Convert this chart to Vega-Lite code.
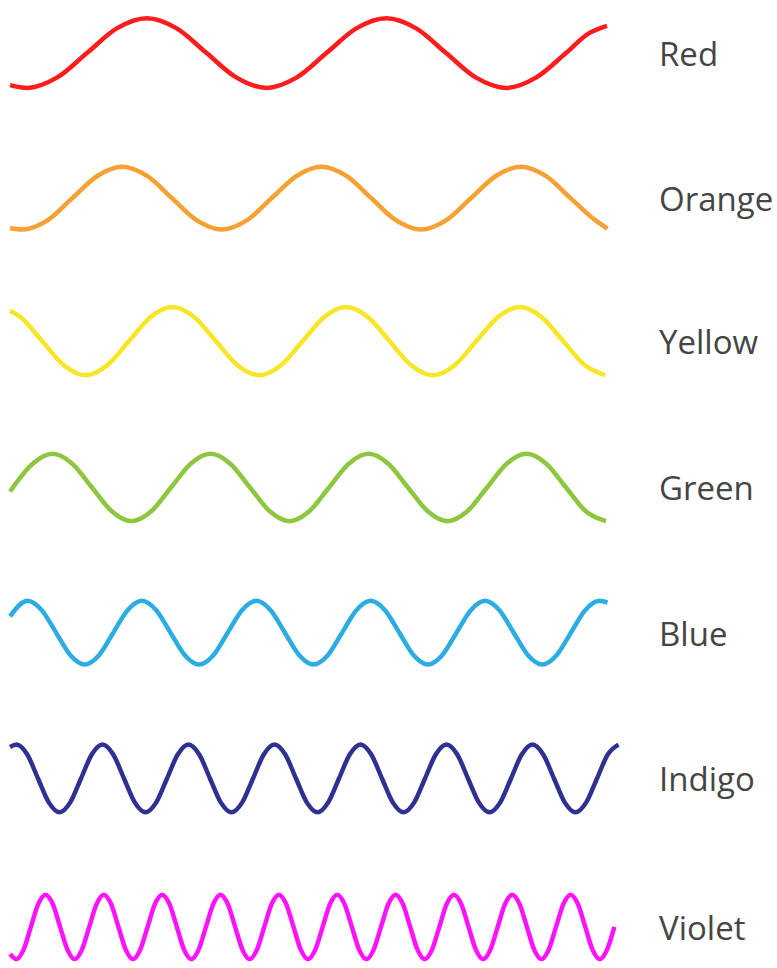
{
  "$schema": "https://vega.github.io/schema/vega-lite/v6.json",
  "width": 777,
  "height": 968,
  "autosize": {"type": "fit", "contains": "padding"},
  "padding": 0,
  "background": "white",
  "config": {"view": {"stroke": null}},
  "datasets": {
    "waves": [
      {"band": "Red", "x": 10, "y": 85.5}, {"band": "Red", "x": 27, "y": 88.3}, {"band": "Red", "x": 56.9, "y": 78}, {"band": "Red", "x": 86.9, "y": 53.3}, {"band": "Red", "x": 116.8, "y": 28.5}, {"band": "Red", "x": 146.8, "y": 18.3}, {"band": "Red", "x": 176.7, "y": 28.5}, {"band": "Red", "x": 206.6, "y": 53.3}, {"band": "Red", "x": 236.6, "y": 78}, {"band": "Red", "x": 266.5, "y": 88.3}, {"band": "Red", "x": 296.4, "y": 78}, {"band": "Red", "x": 326.4, "y": 53.3}, {"band": "Red", "x": 356.3, "y": 28.5}, {"band": "Red", "x": 386.3, "y": 18.3}, {"band": "Red", "x": 416.2, "y": 28.5}, {"band": "Red", "x": 446.1, "y": 53.3}, {"band": "Red", "x": 476.1, "y": 78}, {"band": "Red", "x": 506, "y": 88.3}, {"band": "Red", "x": 535.9, "y": 78}, {"band": "Red", "x": 565.9, "y": 53.3}, {"band": "Red", "x": 588, "y": 34}, {"band": "Red", "x": 607, "y": 26},
      {"band": "Orange", "x": 10, "y": 229}, {"band": "Orange", "x": 22.5, "y": 230.5}, {"band": "Orange", "x": 47.4, "y": 221.3}, {"band": "Orange", "x": 72.3, "y": 199}, {"band": "Orange", "x": 97.3, "y": 176.7}, {"band": "Orange", "x": 122.2, "y": 167.5}, {"band": "Orange", "x": 147.1, "y": 176.7}, {"band": "Orange", "x": 172, "y": 199}, {"band": "Orange", "x": 196.9, "y": 221.3}, {"band": "Orange", "x": 221.8, "y": 230.5}, {"band": "Orange", "x": 246.7, "y": 221.3}, {"band": "Orange", "x": 271.6, "y": 199}, {"band": "Orange", "x": 296.6, "y": 176.7}, {"band": "Orange", "x": 321.5, "y": 167.5}, {"band": "Orange", "x": 346.4, "y": 176.7}, {"band": "Orange", "x": 371.3, "y": 199}, {"band": "Orange", "x": 396.2, "y": 221.3}, {"band": "Orange", "x": 421.1, "y": 230.5}, {"band": "Orange", "x": 446, "y": 221.3}, {"band": "Orange", "x": 470.9, "y": 199}, {"band": "Orange", "x": 495.9, "y": 176.7}, {"band": "Orange", "x": 520.8, "y": 167.5}, {"band": "Orange", "x": 545.7, "y": 176.7}, {"band": "Orange", "x": 570.6, "y": 199}, {"band": "Orange", "x": 595.5, "y": 221.3}, {"band": "Orange", "x": 607.5, "y": 229.5},
      {"band": "Yellow", "x": 10, "y": 312}, {"band": "Yellow", "x": 20.4, "y": 318.3}, {"band": "Yellow", "x": 42.1, "y": 342.5}, {"band": "Yellow", "x": 63.8, "y": 366.7}, {"band": "Yellow", "x": 85.55, "y": 376.7}, {"band": "Yellow", "x": 107.3, "y": 366.7}, {"band": "Yellow", "x": 129, "y": 342.5}, {"band": "Yellow", "x": 150.7, "y": 318.3}, {"band": "Yellow", "x": 172.4, "y": 308.3}, {"band": "Yellow", "x": 194.1, "y": 318.3}, {"band": "Yellow", "x": 215.8, "y": 342.5}, {"band": "Yellow", "x": 237.5, "y": 366.7}, {"band": "Yellow", "x": 259.25, "y": 376.7}, {"band": "Yellow", "x": 281, "y": 366.7}, {"band": "Yellow", "x": 302.7, "y": 342.5}, {"band": "Yellow", "x": 324.4, "y": 318.3}, {"band": "Yellow", "x": 346.1, "y": 308.3}, {"band": "Yellow", "x": 367.8, "y": 318.3}, {"band": "Yellow", "x": 389.5, "y": 342.5}, {"band": "Yellow", "x": 411.2, "y": 366.7}, {"band": "Yellow", "x": 432.95, "y": 376.7}, {"band": "Yellow", "x": 454.7, "y": 366.7}, {"band": "Yellow", "x": 476.4, "y": 342.5}, {"band": "Yellow", "x": 498.1, "y": 318.3}, {"band": "Yellow", "x": 519.8, "y": 308.3}, {"band": "Yellow", "x": 541.5, "y": 318.3}, {"band": "Yellow", "x": 563.2, "y": 342.5}, {"band": "Yellow", "x": 584.9, "y": 366.7}, {"band": "Yellow", "x": 605, "y": 376.7},
      {"band": "Green", "x": 10, "y": 493.5}, {"band": "Green", "x": 32.75, "y": 465.6}, {"band": "Green", "x": 52.5, "y": 455.7}, {"band": "Green", "x": 72.25, "y": 465.6}, {"band": "Green", "x": 92, "y": 489.5}, {"band": "Green", "x": 111.75, "y": 513.4}, {"band": "Green", "x": 131.5, "y": 523.3}, {"band": "Green", "x": 151.25, "y": 513.4}, {"band": "Green", "x": 171, "y": 489.5}, {"band": "Green", "x": 190.75, "y": 465.6}, {"band": "Green", "x": 210.5, "y": 455.7}, {"band": "Green", "x": 230.25, "y": 465.6}, {"band": "Green", "x": 250, "y": 489.5}, {"band": "Green", "x": 269.75, "y": 513.4}, {"band": "Green", "x": 289.5, "y": 523.3}, {"band": "Green", "x": 309.25, "y": 513.4}, {"band": "Green", "x": 329, "y": 489.5}, {"band": "Green", "x": 348.75, "y": 465.6}, {"band": "Green", "x": 368.5, "y": 455.7}, {"band": "Green", "x": 388.25, "y": 465.6}, {"band": "Green", "x": 408, "y": 489.5}, {"band": "Green", "x": 427.75, "y": 513.4}, {"band": "Green", "x": 447.5, "y": 523.3}, {"band": "Green", "x": 467.25, "y": 513.4}, {"band": "Green", "x": 487, "y": 489.5}, {"band": "Green", "x": 506.75, "y": 465.6}, {"band": "Green", "x": 526.5, "y": 455.7}, {"band": "Green", "x": 546.25, "y": 465.6}, {"band": "Green", "x": 566, "y": 489.5}, {"band": "Green", "x": 585.75, "y": 513.4}, {"band": "Green", "x": 606, "y": 523.3},
      {"band": "Blue", "x": 10, "y": 619}, {"band": "Blue", "x": 27.5, "y": 603.3}, {"band": "Blue", "x": 41.8, "y": 612.7}, {"band": "Blue", "x": 56.1, "y": 635.3}, {"band": "Blue", "x": 70.4, "y": 657.9}, {"band": "Blue", "x": 84.7, "y": 667.3}, {"band": "Blue", "x": 99, "y": 657.9}, {"band": "Blue", "x": 113.3, "y": 635.3}, {"band": "Blue", "x": 127.6, "y": 612.7}, {"band": "Blue", "x": 141.9, "y": 603.3}, {"band": "Blue", "x": 156.2, "y": 612.7}, {"band": "Blue", "x": 170.5, "y": 635.3}, {"band": "Blue", "x": 184.8, "y": 657.9}, {"band": "Blue", "x": 199.1, "y": 667.3}, {"band": "Blue", "x": 213.4, "y": 657.9}, {"band": "Blue", "x": 227.7, "y": 635.3}, {"band": "Blue", "x": 242, "y": 612.7}, {"band": "Blue", "x": 256.3, "y": 603.3}, {"band": "Blue", "x": 270.6, "y": 612.7}, {"band": "Blue", "x": 284.9, "y": 635.3}, {"band": "Blue", "x": 299.2, "y": 657.9}, {"band": "Blue", "x": 313.5, "y": 667.3}, {"band": "Blue", "x": 327.8, "y": 657.9}, {"band": "Blue", "x": 342.1, "y": 635.3}, {"band": "Blue", "x": 356.4, "y": 612.7}, {"band": "Blue", "x": 370.7, "y": 603.3}, {"band": "Blue", "x": 385, "y": 612.7}, {"band": "Blue", "x": 399.3, "y": 635.3}, {"band": "Blue", "x": 413.6, "y": 657.9}, {"band": "Blue", "x": 427.9, "y": 667.3}, {"band": "Blue", "x": 442.2, "y": 657.9}, {"band": "Blue", "x": 456.5, "y": 635.3}, {"band": "Blue", "x": 470.8, "y": 612.7}, {"band": "Blue", "x": 485.1, "y": 603.3}, {"band": "Blue", "x": 499.4, "y": 612.7}, {"band": "Blue", "x": 513.7, "y": 635.3}, {"band": "Blue", "x": 528, "y": 657.9}, {"band": "Blue", "x": 542.3, "y": 667.3}, {"band": "Blue", "x": 556.6, "y": 657.9}, {"band": "Blue", "x": 570.9, "y": 635.3}, {"band": "Blue", "x": 585.2, "y": 612.7}, {"band": "Blue", "x": 599.5, "y": 603.3}, {"band": "Blue", "x": 607.5, "y": 605},
      {"band": "Indigo", "x": 10, "y": 750}, {"band": "Indigo", "x": 16.5, "y": 747.7}, {"band": "Indigo", "x": 27.25, "y": 757.7}, {"band": "Indigo", "x": 38, "y": 781.7}, {"band": "Indigo", "x": 48.75, "y": 805.7}, {"band": "Indigo", "x": 59.5, "y": 815.7}, {"band": "Indigo", "x": 70.25, "y": 805.7}, {"band": "Indigo", "x": 81, "y": 781.7}, {"band": "Indigo", "x": 91.75, "y": 757.7}, {"band": "Indigo", "x": 102.5, "y": 747.7}, {"band": "Indigo", "x": 113.25, "y": 757.7}, {"band": "Indigo", "x": 124, "y": 781.7}, {"band": "Indigo", "x": 134.75, "y": 805.7}, {"band": "Indigo", "x": 145.5, "y": 815.7}, {"band": "Indigo", "x": 156.25, "y": 805.7}, {"band": "Indigo", "x": 167, "y": 781.7}, {"band": "Indigo", "x": 177.75, "y": 757.7}, {"band": "Indigo", "x": 188.5, "y": 747.7}, {"band": "Indigo", "x": 199.25, "y": 757.7}, {"band": "Indigo", "x": 210, "y": 781.7}, {"band": "Indigo", "x": 220.75, "y": 805.7}, {"band": "Indigo", "x": 231.5, "y": 815.7}, {"band": "Indigo", "x": 242.25, "y": 805.7}, {"band": "Indigo", "x": 253, "y": 781.7}, {"band": "Indigo", "x": 263.75, "y": 757.7}, {"band": "Indigo", "x": 274.5, "y": 747.7}, {"band": "Indigo", "x": 285.25, "y": 757.7}, {"band": "Indigo", "x": 296, "y": 781.7}, {"band": "Indigo", "x": 306.75, "y": 805.7}, {"band": "Indigo", "x": 317.5, "y": 815.7}, {"band": "Indigo", "x": 328.25, "y": 805.7}, {"band": "Indigo", "x": 339, "y": 781.7}, {"band": "Indigo", "x": 349.75, "y": 757.7}, {"band": "Indigo", "x": 360.5, "y": 747.7}, {"band": "Indigo", "x": 371.25, "y": 757.7}, {"band": "Indigo", "x": 382, "y": 781.7}, {"band": "Indigo", "x": 392.75, "y": 805.7}, {"band": "Indigo", "x": 403.5, "y": 815.7}, {"band": "Indigo", "x": 414.25, "y": 805.7}, {"band": "Indigo", "x": 425, "y": 781.7}, {"band": "Indigo", "x": 435.75, "y": 757.7}, {"band": "Indigo", "x": 446.5, "y": 747.7}, {"band": "Indigo", "x": 457.25, "y": 757.7}, {"band": "Indigo", "x": 468, "y": 781.7}, {"band": "Indigo", "x": 478.75, "y": 805.7}, {"band": "Indigo", "x": 489.5, "y": 815.7}, {"band": "Indigo", "x": 500.25, "y": 805.7}, {"band": "Indigo", "x": 511, "y": 781.7}, {"band": "Indigo", "x": 521.75, "y": 757.7}, {"band": "Indigo", "x": 532.5, "y": 747.7}, {"band": "Indigo", "x": 543.25, "y": 757.7}, {"band": "Indigo", "x": 554, "y": 781.7}, {"band": "Indigo", "x": 564.75, "y": 805.7}, {"band": "Indigo", "x": 575.5, "y": 815.7}, {"band": "Indigo", "x": 586.25, "y": 805.7}, {"band": "Indigo", "x": 597, "y": 781.7}, {"band": "Indigo", "x": 607.75, "y": 757.7}, {"band": "Indigo", "x": 618.5, "y": 747.7},
      {"band": "Violet", "x": 10, "y": 958}, {"band": "Violet", "x": 16.3, "y": 963}, {"band": "Violet", "x": 23.6, "y": 953.5}, {"band": "Violet", "x": 30.9, "y": 930.7}, {"band": "Violet", "x": 38.2, "y": 907.9}, {"band": "Violet", "x": 45.5, "y": 898.4}, {"band": "Violet", "x": 52.8, "y": 907.9}, {"band": "Violet", "x": 60.1, "y": 930.7}, {"band": "Violet", "x": 67.4, "y": 953.5}, {"band": "Violet", "x": 74.65, "y": 963}, {"band": "Violet", "x": 81.95, "y": 953.5}, {"band": "Violet", "x": 89.25, "y": 930.7}, {"band": "Violet", "x": 96.55, "y": 907.9}, {"band": "Violet", "x": 103.85, "y": 898.4}, {"band": "Violet", "x": 111.15, "y": 907.9}, {"band": "Violet", "x": 118.45, "y": 930.7}, {"band": "Violet", "x": 125.7, "y": 953.5}, {"band": "Violet", "x": 133, "y": 963}, {"band": "Violet", "x": 140.3, "y": 953.5}, {"band": "Violet", "x": 147.6, "y": 930.7}, {"band": "Violet", "x": 154.9, "y": 907.9}, {"band": "Violet", "x": 162.2, "y": 898.4}, {"band": "Violet", "x": 169.5, "y": 907.9}, {"band": "Violet", "x": 176.8, "y": 930.7}, {"band": "Violet", "x": 184.05, "y": 953.5}, {"band": "Violet", "x": 191.35, "y": 963}, {"band": "Violet", "x": 198.65, "y": 953.5}, {"band": "Violet", "x": 205.95, "y": 930.7}, {"band": "Violet", "x": 213.25, "y": 907.9}, {"band": "Violet", "x": 220.55, "y": 898.4}, {"band": "Violet", "x": 227.85, "y": 907.9}, {"band": "Violet", "x": 235.15, "y": 930.7}, {"band": "Violet", "x": 242.4, "y": 953.5}, {"band": "Violet", "x": 249.7, "y": 963}, {"band": "Violet", "x": 257, "y": 953.5}, {"band": "Violet", "x": 264.3, "y": 930.7}, {"band": "Violet", "x": 271.6, "y": 907.9}, {"band": "Violet", "x": 278.9, "y": 898.4}, {"band": "Violet", "x": 286.2, "y": 907.9}, {"band": "Violet", "x": 293.5, "y": 930.7}, {"band": "Violet", "x": 300.75, "y": 953.5}, {"band": "Violet", "x": 308.05, "y": 963}, {"band": "Violet", "x": 315.35, "y": 953.5}, {"band": "Violet", "x": 322.65, "y": 930.7}, {"band": "Violet", "x": 329.95, "y": 907.9}, {"band": "Violet", "x": 337.25, "y": 898.4}, {"band": "Violet", "x": 344.55, "y": 907.9}, {"band": "Violet", "x": 351.85, "y": 930.7}, {"band": "Violet", "x": 359.1, "y": 953.5}, {"band": "Violet", "x": 366.4, "y": 963}, {"band": "Violet", "x": 373.7, "y": 953.5}, {"band": "Violet", "x": 381, "y": 930.7}, {"band": "Violet", "x": 388.3, "y": 907.9}, {"band": "Violet", "x": 395.6, "y": 898.4}, {"band": "Violet", "x": 402.9, "y": 907.9}, {"band": "Violet", "x": 410.2, "y": 930.7}, {"band": "Violet", "x": 417.45, "y": 953.5}, {"band": "Violet", "x": 424.75, "y": 963}, {"band": "Violet", "x": 432.05, "y": 953.5}, {"band": "Violet", "x": 439.35, "y": 930.7}, {"band": "Violet", "x": 446.65, "y": 907.9}, {"band": "Violet", "x": 453.95, "y": 898.4}, {"band": "Violet", "x": 461.25, "y": 907.9}, {"band": "Violet", "x": 468.55, "y": 930.7}, {"band": "Violet", "x": 475.8, "y": 953.5}, {"band": "Violet", "x": 483.1, "y": 963}, {"band": "Violet", "x": 490.4, "y": 953.5}, {"band": "Violet", "x": 497.7, "y": 930.7}, {"band": "Violet", "x": 505, "y": 907.9}, {"band": "Violet", "x": 512.3, "y": 898.4}, {"band": "Violet", "x": 519.6, "y": 907.9}, {"band": "Violet", "x": 526.9, "y": 930.7}, {"band": "Violet", "x": 534.15, "y": 953.5}, {"band": "Violet", "x": 541.45, "y": 963}, {"band": "Violet", "x": 548.75, "y": 953.5}, {"band": "Violet", "x": 556.05, "y": 930.7}, {"band": "Violet", "x": 563.35, "y": 907.9}, {"band": "Violet", "x": 570.65, "y": 898.4}, {"band": "Violet", "x": 577.95, "y": 907.9}, {"band": "Violet", "x": 585.25, "y": 930.7}, {"band": "Violet", "x": 592.5, "y": 953.5}, {"band": "Violet", "x": 599.8, "y": 963}, {"band": "Violet", "x": 607.1, "y": 953.5}, {"band": "Violet", "x": 614.4, "y": 930.7}
    ],
    "labels": [
      {"band": "Red", "center": 53.25},
      {"band": "Orange", "center": 199},
      {"band": "Yellow", "center": 342.5},
      {"band": "Green", "center": 489.5},
      {"band": "Blue", "center": 635.3},
      {"band": "Indigo", "center": 781.7},
      {"band": "Violet", "center": 930.7}
    ]
  },
  "layer": [
    {
      "data": {"name": "waves"},
      "mark": {"type": "line", "interpolate": "monotone", "strokeWidth": 4.5},
      "encoding": {
        "x": {"field": "x", "type": "quantitative", "scale": {"domain": [0, 777], "nice": false, "zero": false}, "axis": null},
        "y": {"field": "y", "type": "quantitative", "scale": {"domain": [0, 968], "nice": false, "zero": false, "reverse": true}, "axis": null},
        "color": {
          "field": "band",
          "type": "nominal",
          "scale": {
            "domain": ["Red", "Orange", "Yellow", "Green", "Blue", "Indigo", "Violet"],
            "range": ["#ff1c1c", "#f7a033", "#f7e627", "#8dc63f", "#2bade3", "#2e3192", "#ff12ff"]
          },
          "legend": null
        }
      }
    },
    {
      "data": {"name": "labels"},
      "mark": {"type": "text", "align": "left", "baseline": "alphabetic", "dy": 13, "font": "Open Sans", "fontSize": 33, "color": "#454545"},
      "encoding": {
        "x": {"datum": 659, "type": "quantitative"},
        "y": {"field": "center", "type": "quantitative"},
        "text": {"field": "band", "type": "nominal"}
      }
    }
  ]
}
